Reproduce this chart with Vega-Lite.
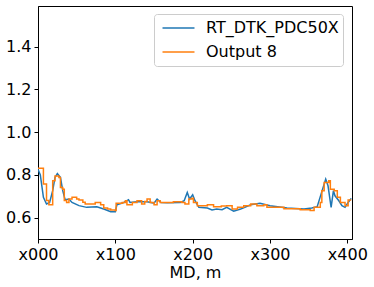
{
  "$schema": "https://vega.github.io/schema/vega-lite/v6.json",
  "autosize": "none",
  "width": 314,
  "height": 233,
  "padding": {"left": 38, "top": 6, "right": 22, "bottom": 48},
  "background": "white",
  "config": {
    "font": "DejaVu Sans",
    "view": {"stroke": "black", "strokeWidth": 1},
    "axis": {"grid": false, "domainColor": "black", "tickColor": "black", "labelColor": "black", "titleColor": "black", "labelFont": "DejaVu Sans", "titleFont": "DejaVu Sans", "labelFontSize": 16, "titleFontSize": 16, "titleFontWeight": "normal", "tickSize": 4, "labelPadding": 3}
  },
  "datasets": {
    "blue": [
      {"md": 0, "v": 0.826}, {"md": 3, "v": 0.80}, {"md": 7, "v": 0.695}, {"md": 11, "v": 0.664}, {"md": 15, "v": 0.671},
      {"md": 19, "v": 0.726}, {"md": 22, "v": 0.788}, {"md": 25, "v": 0.806}, {"md": 29, "v": 0.788}, {"md": 32, "v": 0.726},
      {"md": 35, "v": 0.684}, {"md": 40, "v": 0.687}, {"md": 44, "v": 0.671}, {"md": 53, "v": 0.656}, {"md": 63, "v": 0.648},
      {"md": 76, "v": 0.651}, {"md": 85, "v": 0.64}, {"md": 94, "v": 0.628}, {"md": 100, "v": 0.628}, {"md": 102, "v": 0.66},
      {"md": 111, "v": 0.671}, {"md": 117, "v": 0.684}, {"md": 119, "v": 0.671}, {"md": 128, "v": 0.674}, {"md": 141, "v": 0.674},
      {"md": 150, "v": 0.668}, {"md": 154, "v": 0.687}, {"md": 159, "v": 0.671}, {"md": 167, "v": 0.67}, {"md": 184, "v": 0.671},
      {"md": 189, "v": 0.679}, {"md": 193, "v": 0.718}, {"md": 196, "v": 0.687}, {"md": 200, "v": 0.707}, {"md": 203, "v": 0.679},
      {"md": 208, "v": 0.648}, {"md": 219, "v": 0.645}, {"md": 225, "v": 0.636}, {"md": 231, "v": 0.64}, {"md": 238, "v": 0.637},
      {"md": 244, "v": 0.648}, {"md": 253, "v": 0.63}, {"md": 262, "v": 0.64}, {"md": 275, "v": 0.66}, {"md": 287, "v": 0.667},
      {"md": 300, "v": 0.656}, {"md": 322, "v": 0.645}, {"md": 344, "v": 0.64}, {"md": 354, "v": 0.645}, {"md": 361, "v": 0.651},
      {"md": 366, "v": 0.71}, {"md": 372, "v": 0.78}, {"md": 375, "v": 0.749}, {"md": 379, "v": 0.648}, {"md": 382, "v": 0.726},
      {"md": 384, "v": 0.702}, {"md": 389, "v": 0.679}, {"md": 393, "v": 0.656}, {"md": 397, "v": 0.648}, {"md": 401, "v": 0.671},
      {"md": 405, "v": 0.69}
    ],
    "orange": [
      {"md": 0, "v": 0.831}, {"md": 7, "v": 0.757}, {"md": 11, "v": 0.68}, {"md": 14, "v": 0.66}, {"md": 19, "v": 0.772},
      {"md": 22, "v": 0.795}, {"md": 27, "v": 0.788}, {"md": 29, "v": 0.741}, {"md": 32, "v": 0.733}, {"md": 34, "v": 0.68},
      {"md": 37, "v": 0.671}, {"md": 40, "v": 0.687}, {"md": 44, "v": 0.695}, {"md": 50, "v": 0.687}, {"md": 53, "v": 0.682},
      {"md": 58, "v": 0.672}, {"md": 61, "v": 0.664}, {"md": 74, "v": 0.671}, {"md": 81, "v": 0.66}, {"md": 85, "v": 0.645},
      {"md": 90, "v": 0.64}, {"md": 94, "v": 0.636}, {"md": 100, "v": 0.633}, {"md": 101, "v": 0.667}, {"md": 109, "v": 0.671},
      {"md": 113, "v": 0.679}, {"md": 115, "v": 0.66}, {"md": 122, "v": 0.671}, {"md": 128, "v": 0.679}, {"md": 134, "v": 0.664},
      {"md": 138, "v": 0.675}, {"md": 141, "v": 0.687}, {"md": 145, "v": 0.671}, {"md": 150, "v": 0.66}, {"md": 154, "v": 0.679},
      {"md": 158, "v": 0.671}, {"md": 175, "v": 0.674}, {"md": 186, "v": 0.671}, {"md": 190, "v": 0.664}, {"md": 195, "v": 0.687},
      {"md": 199, "v": 0.691}, {"md": 201, "v": 0.671}, {"md": 206, "v": 0.656}, {"md": 219, "v": 0.66}, {"md": 227, "v": 0.651},
      {"md": 237, "v": 0.654}, {"md": 244, "v": 0.656}, {"md": 251, "v": 0.64}, {"md": 258, "v": 0.648}, {"md": 266, "v": 0.656},
      {"md": 275, "v": 0.664}, {"md": 283, "v": 0.656}, {"md": 292, "v": 0.66}, {"md": 296, "v": 0.648}, {"md": 318, "v": 0.642},
      {"md": 339, "v": 0.637}, {"md": 352, "v": 0.633}, {"md": 357, "v": 0.648}, {"md": 365, "v": 0.671}, {"md": 367, "v": 0.726},
      {"md": 370, "v": 0.764}, {"md": 376, "v": 0.772}, {"md": 378, "v": 0.733}, {"md": 383, "v": 0.726}, {"md": 387, "v": 0.695},
      {"md": 391, "v": 0.671}, {"md": 397, "v": 0.656}, {"md": 401, "v": 0.682}, {"md": 405, "v": 0.682}
    ]
  },
  "encoding": {
    "x": {"field": "md", "type": "quantitative", "title": "MD, m",
      "scale": {"domain": [0, 406], "nice": false, "zero": false},
      "axis": {"values": [0, 100, 200, 300, 400], "labelExpr": "'x' + pad(toString(datum.value), 3, '0', 'left')", "titlePadding": 2, "labelFlush": false}},
    "y": {"field": "v", "type": "quantitative", "title": null,
      "scale": {"domain": [0.5, 1.59], "nice": false, "zero": false},
      "axis": {"values": [0.6, 0.8, 1.0, 1.2, 1.4], "format": ".1f"}},
    "color": {"field": "series", "type": "nominal",
      "scale": {"domain": ["RT_DTK_PDC50X", "Output 8"], "range": ["#1f77b4", "#ff7f0e"]},
      "legend": {"title": null, "orient": "none", "legendX": 116, "legendY": 8,
        "symbolType": "M-0.82,0H0.82", "symbolSize": 1521, "symbolStrokeWidth": 1.5, "clipHeight": 20,
        "labelFontSize": 16, "labelFont": "DejaVu Sans", "labelColor": "black", "labelOffset": 7, "rowPadding": 4,
        "padding": 4, "strokeColor": "#cccccc", "fillColor": "rgba(255,255,255,0.8)", "cornerRadius": 3}}
  },
  "layer": [
    {"data": {"name": "blue"}, "transform": [{"calculate": "'RT_DTK_PDC50X'", "as": "series"}],
      "mark": {"type": "line", "strokeWidth": 1.5, "clip": true}},
    {"data": {"name": "orange"}, "transform": [{"calculate": "'Output 8'", "as": "series"}],
      "mark": {"type": "line", "strokeWidth": 1.5, "interpolate": "step-after", "clip": true}}
  ]
}
